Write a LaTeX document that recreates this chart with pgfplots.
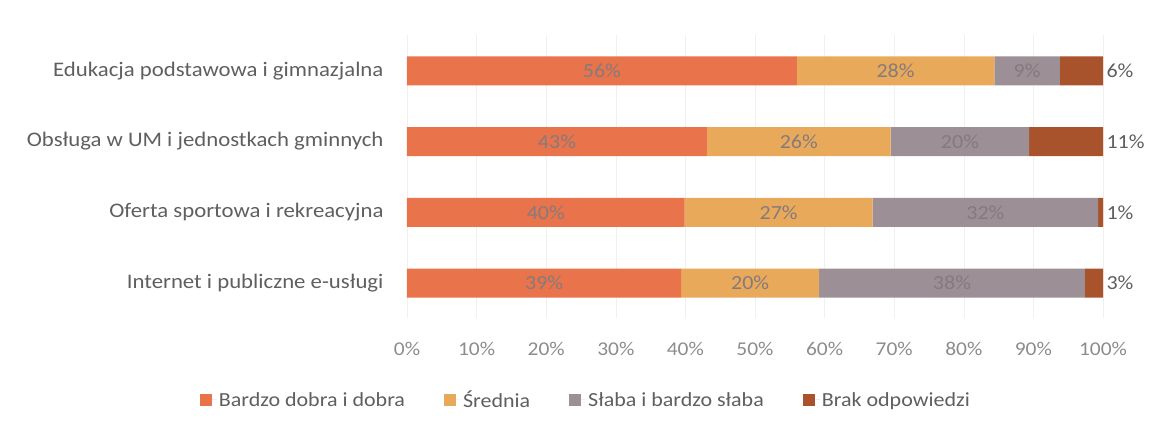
\documentclass[border=0pt]{standalone}
\usepackage{pgfplots}
\pgfplotsset{compat=1.18}
\usepackage{fontspec}
\setmainfont{Carlito}[FakeStretch=1.1]
\definecolor{cA}{HTML}{E9734A}
\definecolor{cB}{HTML}{E9A95A}
\definecolor{cC}{HTML}{9C8F95}
\definecolor{cD}{HTML}{A8532B}
\definecolor{txt}{HTML}{5F5F5F}
\definecolor{tck}{HTML}{8C8C8C}
\definecolor{lbl}{HTML}{857A7D}
\begin{document}
\begin{tikzpicture}[x=1pt,y=1pt]
\path[use as bounding box] (0,0) rectangle (1157,427);
\begin{axis}[
  at={(407pt,108.6pt)}, anchor=south west,
  width=696pt, height=283pt, scale only axis,
  xbar stacked, bar width=29pt,
  xmin=0, xmax=100, ymin=-0.5, ymax=3.5,
  /pgf/number format/assume math mode=true,
  ytick={0,1,2,3},
  yticklabels={Internet i publiczne e-usługi, Oferta sportowa i rekreacyjna, Obsługa w UM i jednostkach gminnych, Edukacja podstawowa i gimnazjalna},
  xtick={0,10,...,100},
  xticklabels={0\%,10\%,20\%,30\%,40\%,50\%,60\%,70\%,80\%,90\%,100\%},
  xticklabel style={font=\fontsize{19.5}{22}\selectfont, text=tck, yshift=-20pt},
  yticklabel style={font=\fontsize{20.7}{23}\selectfont, text=txt, xshift=-20pt},
  major tick length=0pt,
  axis line style={draw=none},
  xmajorgrids, grid style={draw=black!6, line width=0.6pt},
  visualization depends on=rawx \as \rawx,
  nodes near coords={\pgfmathprintnumber[fixed,precision=0]{\pgfplotspointmeta}\%},
  mid/.style={every node near coord/.style={font=\fontsize{20}{23}\selectfont, text=lbl, anchor=center}},
  legend style={at={(rel axis cs:0.257,-0.288)}, anchor=center, draw=none, legend columns=4,
    font=\fontsize{20}{23}\selectfont, text=txt, /tikz/every even column/.append style={column sep=37pt}},
  legend image code/.code={\fill[#1] (0pt,-6pt) rectangle (12pt,6pt); \path (0pt,0pt) -- (17pt,0pt);},
]
\addplot[fill=cA, draw=none, mid] coordinates {(56.0,3) (43.1,2) (39.9,1) (39.4,0)};
\addplot[fill=cB, draw=none, mid] coordinates {(28.4,3) (26.4,2) (27.0,1) (19.8,0)};
\addplot[fill=cC, draw=none, mid] coordinates {(9.4,3) (19.9,2) (32.4,1) (38.2,0)};
\addplot[fill=cD, draw=none, every node near coord/.style={font=\fontsize{20}{23}\selectfont, text=txt, anchor=west, shift={(axis direction cs:0.5*\rawx,0)}}] coordinates {(6.2,3) (10.6,2) (0.7,1) (2.6,0)};
\legend{Bardzo dobra i dobra, Średnia, Słaba i bardzo słaba, Brak odpowiedzi}
\end{axis}
\end{tikzpicture}
\end{document}
